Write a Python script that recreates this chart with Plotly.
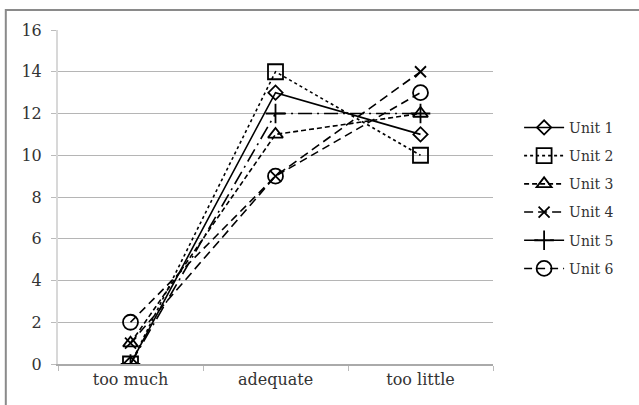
import plotly.graph_objects as go

categories = ["too much", "adequate", "too little"]
unit_names = ["Unit 1", "Unit 2", "Unit 3", "Unit 4", "Unit 5", "Unit 6"]
unit1 = [0, 13, 11]
unit2 = [0, 14, 10]
unit3 = [1, 11, 12]
unit4 = [1, 9, 14]
unit5 = [0, 12, 12]
unit6 = [2, 9, 13]
y_ticks = [0, 2, 4, 6, 8, 10, 12, 14, 16]

series = [unit1, unit2, unit3, unit4, unit5, unit6]
styles = [
    dict(dash="solid", symbol="diamond-open", size=11),
    dict(dash="dot", symbol="square-open", size=15),
    dict(dash="5px,3px", symbol="triangle-up-open", size=13),
    dict(dash="9px,5px", symbol="x-thin-open", size=11),
    dict(dash="14px,5px,2px,5px", symbol="cross-thin-open", size=14),
    dict(dash="8px,5px", symbol="circle-open", size=15),
]

FONT = "DejaVu Serif"
TEXT = "#333"

fig = go.Figure()
for name, vals, st in zip(unit_names, series, styles):
    fig.add_trace(go.Scatter(
        x=categories, y=vals, name=name, mode="lines+markers",
        legendgroup=name,
        line=dict(color="black", width=1.6, dash=st["dash"]),
        marker=dict(symbol=st["symbol"], size=st["size"], color="black",
                    line=dict(color="black", width=1.8)),
    ))

fig.update_layout(
    width=639, height=405,
    margin=dict(l=58, r=146, t=30, b=41),
    paper_bgcolor="white", plot_bgcolor="white",
    font=dict(family=FONT, size=15, color=TEXT),
    showlegend=True,
    legend=dict(x=1.06, y=0.755, xanchor="left", yanchor="top",
                font=dict(family=FONT, size=14, color=TEXT),
                tracegroupgap=7, itemwidth=40, bgcolor="rgba(0,0,0,0)"),
    xaxis=dict(type="category", tickson="boundaries", ticks="outside",
               ticklen=5, tickcolor="#bbb", showline=True, linecolor="#aaa",
               linewidth=1.5, showgrid=False, range=[-0.5, 2.5],
               tickfont=dict(family=FONT, size=16, color=TEXT)),
    yaxis=dict(range=[0, 16], tickvals=y_ticks, ticks="outside", ticklen=5,
               tickcolor="#bbb", showgrid=True, gridcolor="#b5b5b5",
               gridwidth=1, showline=True, linecolor="#d8d8d8", linewidth=2,
               ticklabelstandoff=6, zeroline=False,
               tickfont=dict(family=FONT, size=16, color=TEXT)),
    shapes=[dict(type="rect", xref="paper", yref="paper",
                 x0=-0.12, x1=1.4, y0=-0.2, y1=1.06,
                 line=dict(color="#8a8a8a", width=2), layer="below")],
)

fig.write_html("out.html")
